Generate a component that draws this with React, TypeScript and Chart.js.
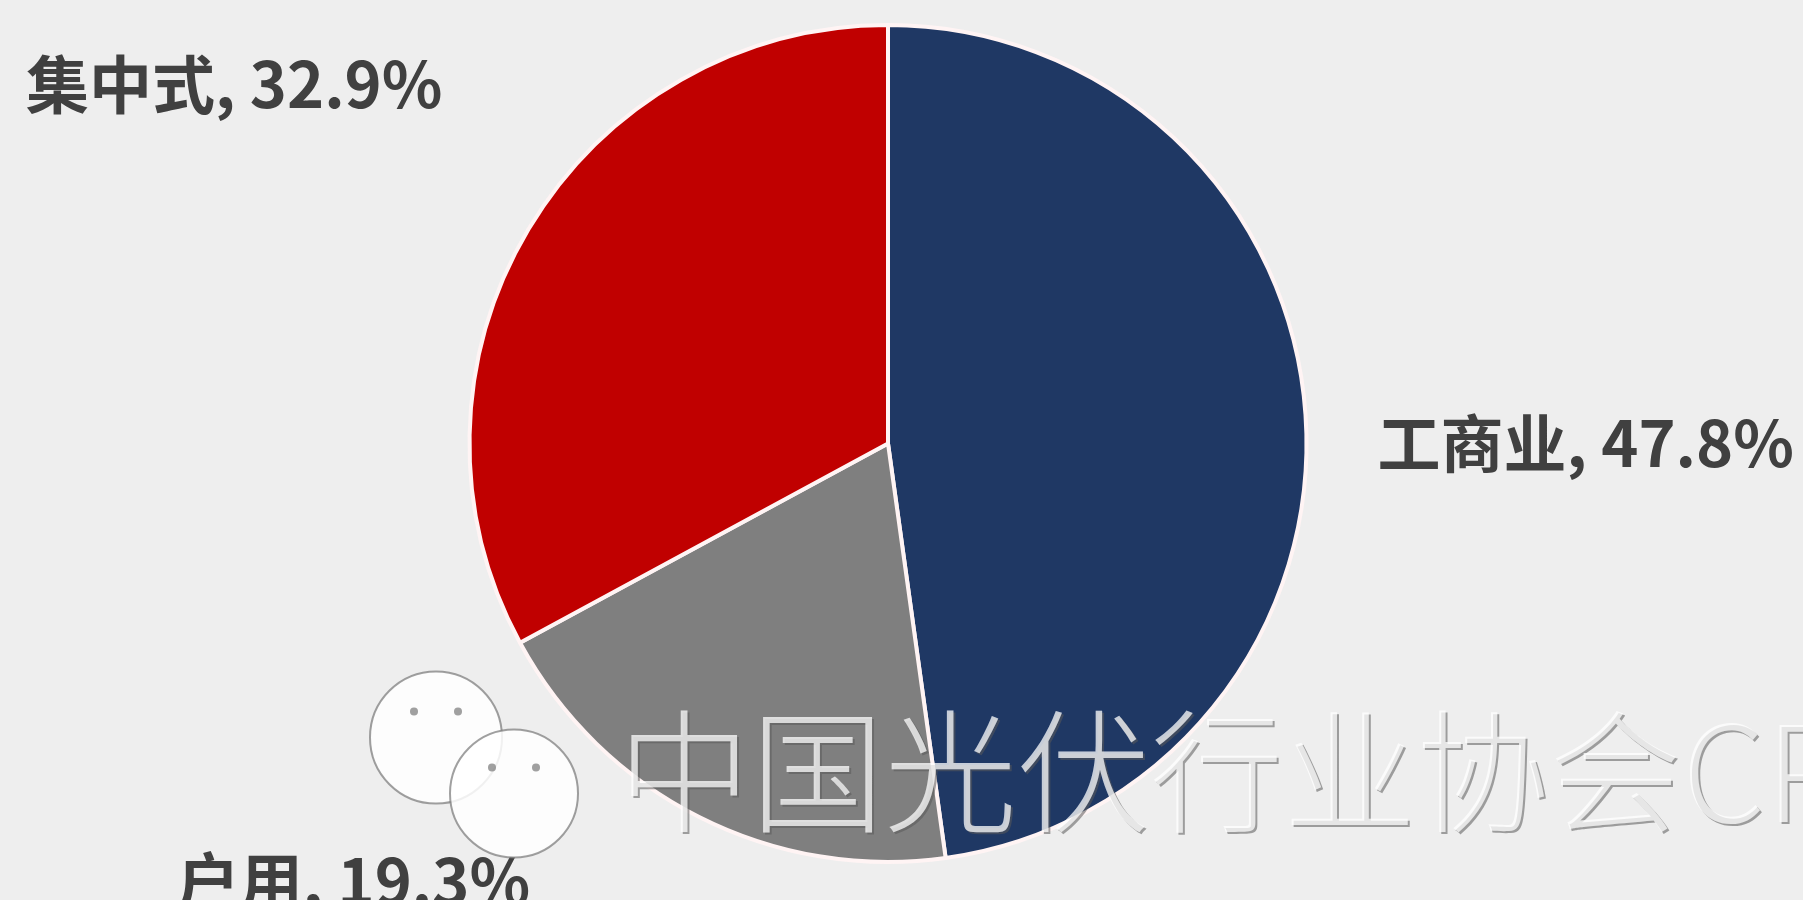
import { useEffect, useRef } from "react";
import { Chart, registerables } from "chart.js";

Chart.register(...registerables);

const categories = ["工商业", "户用", "集中式"];
const shares = [47.8, 19.3, 32.9];
const sliceColors = ["#1F3864", "#7F7F7F", "#C00000"];
const watermarkText = "中国光伏行业协会CPIA";

const sliceLabelPlugin = {
  id: "sliceLabels",
  afterDatasetsDraw(chart: any, _args: any, opts: any) {
    const ctx = chart.ctx;
    const meta = chart.getDatasetMeta(0);
    ctx.save();
    ctx.font = opts.font;
    ctx.fillStyle = opts.color;
    ctx.textBaseline = "middle";
    meta.data.forEach((arc: any, i: number) => {
      const p = arc.getProps(["x", "y", "startAngle", "endAngle", "outerRadius"], true);
      const mid = (p.startAngle + p.endAngle) / 2;
      const off = opts.offsets[i];
      const ax = p.x + Math.cos(mid) * p.outerRadius + off[0];
      const ay = p.y + Math.sin(mid) * p.outerRadius + off[1];
      ctx.textAlign = off[2];
      ctx.fillText(`${categories[i]}, ${shares[i].toFixed(1)}%`, ax, ay);
    });
    ctx.restore();
  },
};

const backgroundPlugin = {
  id: "bg",
  beforeDraw(chart: any) {
    const ctx = chart.ctx;
    ctx.save();
    ctx.fillStyle = "#EEEEEE";
    ctx.fillRect(0, 0, chart.width, chart.height);
    ctx.restore();
  },
};

const watermarkPlugin = {
  id: "watermark",
  afterDraw(chart: any, _args: any, opts: any) {
    const ctx = chart.ctx;
    const meta = chart.getDatasetMeta(0);
    const arc: any = meta.data[0];
    if (!arc) return;
    const tx = arc.x + opts.dx;
    const ty = arc.y + opts.dy;
    ctx.save();
    const bubbles = [
      [tx - 182, ty - 34, 66],
      [tx - 104, ty + 22, 64],
    ];
    bubbles.forEach(([bx, by, br]) => {
      ctx.beginPath();
      ctx.arc(bx, by, br, 0, Math.PI * 2);
      ctx.fillStyle = "rgba(255,255,255,0.85)";
      ctx.fill();
      ctx.lineWidth = 2;
      ctx.strokeStyle = "rgba(120,120,120,0.7)";
      ctx.stroke();
      ctx.fillStyle = "rgba(120,120,120,0.7)";
      [-22, 22].forEach((ex) => {
        ctx.beginPath();
        ctx.arc(bx + ex, by - 26, 4, 0, Math.PI * 2);
        ctx.fill();
      });
    });
    ctx.font = "300 133px 'Noto Sans CJK SC'";
    ctx.textBaseline = "middle";
    ctx.textAlign = "left";
    ctx.fillStyle = "rgba(90,90,90,0.55)";
    ctx.fillText(watermarkText, tx + 2, ty + 2);
    ctx.fillStyle = "rgba(255,255,255,0.75)";
    ctx.fillText(watermarkText, tx, ty);
    ctx.restore();
  },
};

export default function App() {
  const canvasRef = useRef<HTMLCanvasElement | null>(null);

  useEffect(() => {
    document.body.style.margin = "0";
    document.body.style.background = "#EEEEEE";
    if (!canvasRef.current) return;
    const chart = new Chart(canvasRef.current, {
      type: "pie",
      data: {
        labels: categories,
        datasets: [
          {
            data: shares,
            backgroundColor: sliceColors,
            borderColor: "#FFF4F4",
            borderWidth: 4,
          },
        ],
      },
      options: {
        animation: false,
        responsive: true,
        maintainAspectRatio: false,
        layout: { padding: { top: 23, bottom: 36, left: 0, right: 27 } },
        plugins: {
          legend: { display: false },
          tooltip: { enabled: false },
          sliceLabels: {
            font: "bold 63px 'Noto Sans CJK SC', 'Noto Sans', sans-serif",
            color: "#404040",
            offsets: [
              [72, 28, "left"],
              [-169, 64, "right"],
              [-86, -145, "right"],
            ],
          },
          watermark: { dx: -270, dy: 328 },
        } as any,
      },
      plugins: [backgroundPlugin, sliceLabelPlugin, watermarkPlugin],
    });
    return () => chart.destroy();
  }, []);

  return (
    <div style={{ position: "relative", width: "1803px", height: "900px" }}>
      <canvas ref={canvasRef} />
    </div>
  );
}
